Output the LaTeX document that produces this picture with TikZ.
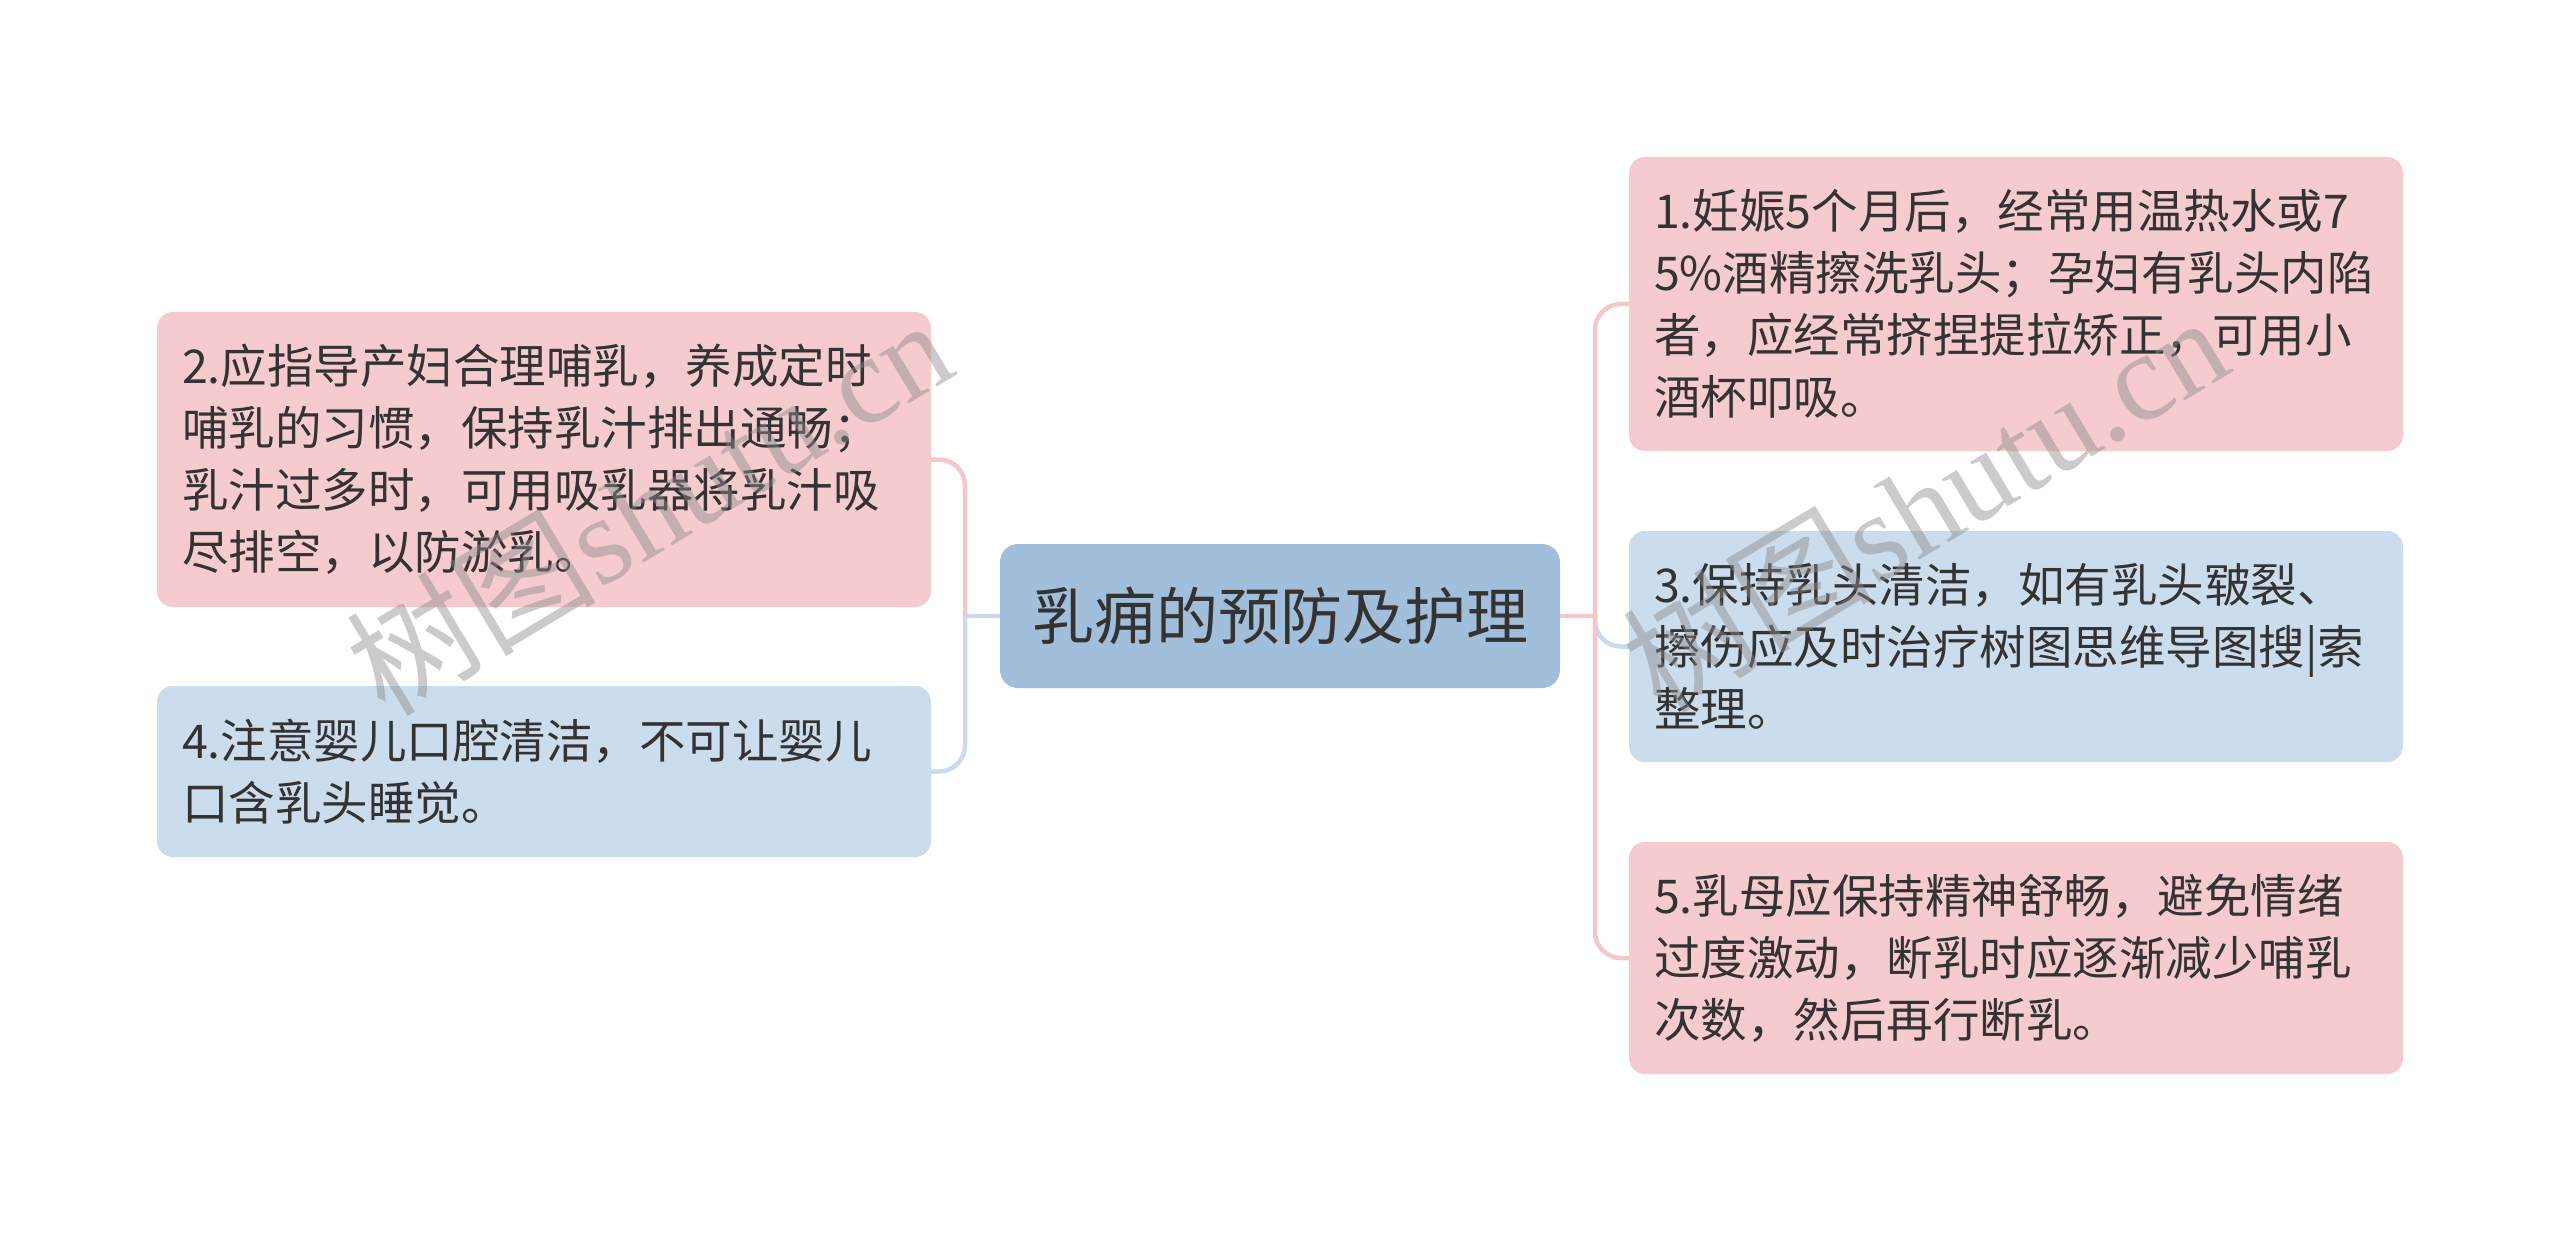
\documentclass[tikz,border=0pt]{standalone}
\usepackage{fontspec}
\setmainfont{Noto Sans CJK SC}
\newfontfamily\wmlatin{Liberation Serif}
\newfontfamily\wmcjk{Noto Sans CJK SC}
\definecolor{pinkfill}{HTML}{F5CBCE}
\definecolor{bluefill}{HTML}{CBDCEC}
\definecolor{centerfill}{HTML}{A1BFDB}
\definecolor{pinkln}{HTML}{F4C7CB}
\definecolor{blueln}{HTML}{C9DBEC}
\definecolor{txt}{HTML}{333333}
\tikzset{
  x=1pt, y=-1pt,
  itembox/.style={rounded corners=16pt, inner xsep=25pt, inner ysep=0pt,
    text width=724pt, align=left, text=txt,
    font=\fontsize{46.5}{62}\selectfont},
  pinkbox/.style={itembox, fill=pinkfill},
  bluebox/.style={itembox, fill=bluefill},
  rootbox/.style={rounded corners=18pt, fill=centerfill, minimum width=560pt,
    minimum height=144pt, text=txt, font=\fontsize{62}{70}\selectfont},
  pinkconn/.style={draw=pinkln, line width=4.5pt, rounded corners=26pt},
  blueconn/.style={draw=blueln, line width=4.5pt, rounded corners=26pt},
  wmark/.style={text=black!45, opacity=0.45, inner sep=0pt}
}
\begin{document}
\begin{tikzpicture}
\useasboundingbox (0,0) rectangle (2560,1233);
\fill[white] (0,0) rectangle (2560,1233);

\node[rootbox] (c) at (1280,616) {乳痈的预防及护理};

\node[pinkbox, minimum height=295pt] (b2) at (544,459.5) {2.应指导产妇合理哺乳，养成定时\\哺乳的习惯，保持乳汁排出通畅；\\乳汁过多时，可用吸乳器将乳汁吸\\尽排空，以防淤乳。};
\node[bluebox, minimum height=171pt] (b4) at (544,771.5) {4.注意婴儿口腔清洁，不可让婴儿\\口含乳头睡觉。};

\node[pinkbox, minimum height=294pt] (b1) at (2016,304) {1.妊娠5个月后，经常用温热水或7\\5\%酒精擦洗乳头；孕妇有乳头内陷\\者，应经常挤捏提拉矫正，可用小\\酒杯叩吸。};
\node[bluebox, minimum height=231pt] (b3) at (2016,646.5) {3.保持乳头清洁，如有乳头皲裂、\\擦伤应及时治疗树图思维导图搜|索\\整理。};
\node[pinkbox, minimum height=232pt] (b5) at (2016,958) {5.乳母应保持精神舒畅，避免情绪\\过度激动，断乳时应逐渐减少哺乳\\次数，然后再行断乳。};

\coordinate (jL) at (965,616);
\coordinate (jR) at (1595,616);

% left side
\draw[pinkconn] (jL) |- (b2.east);
\draw[blueconn] (jL) |- (b4.east);
\draw[draw=blueln, line width=4.5pt] (c.west) -- (jL);

% right side
\draw[blueconn] (jR) |- (b3.west);
\draw[pinkconn] (jR) |- (b1.west);
\draw[pinkconn] (jR) |- (b5.west);
\draw[draw=pinkln, line width=4.5pt] (c.east) -- (jR);

% watermarks
\node[wmark, rotate=31] (wm1) at (648,505) {\fontsize{125}{125}\selectfont\wmcjk 树图\wmlatin shutu.cn};
\node[wmark, rotate=31] (wm2) at (1924,502) {\fontsize{125}{125}\selectfont\wmcjk 树图\wmlatin shutu.cn};
\end{tikzpicture}
\end{document}
